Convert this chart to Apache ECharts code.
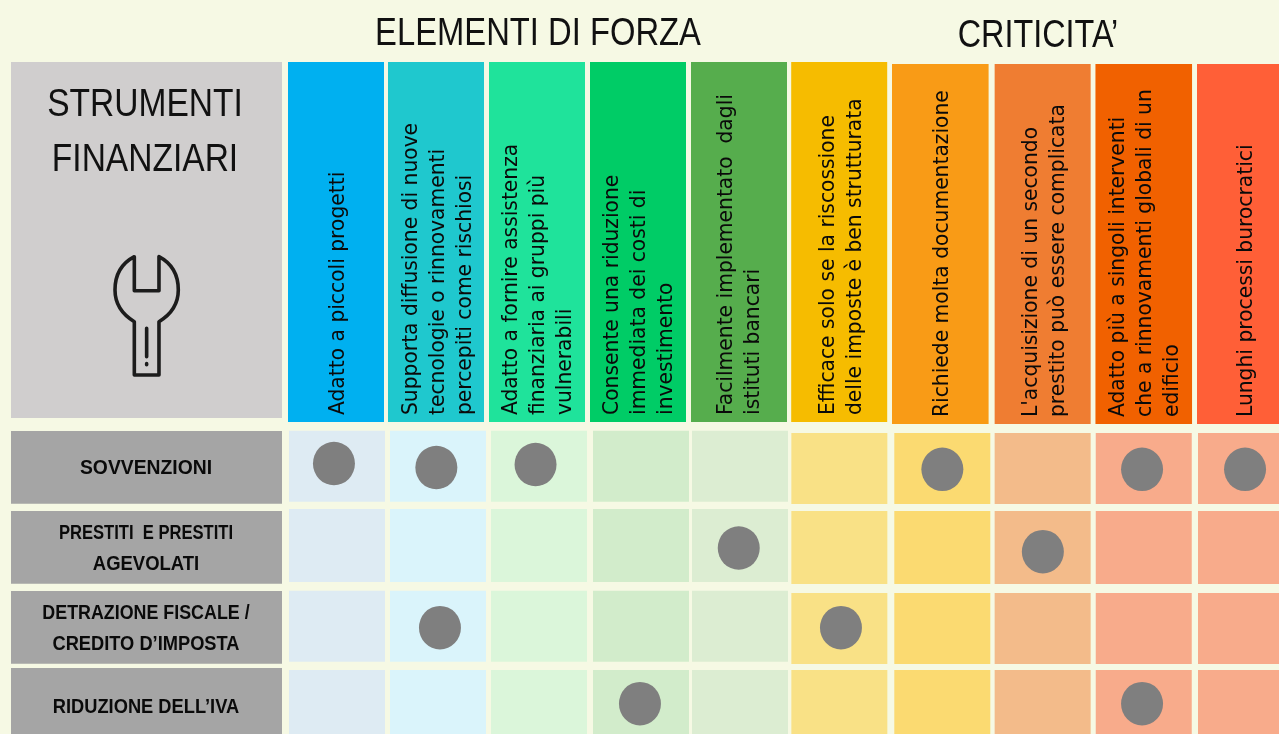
<!DOCTYPE html>
<html><head><meta charset="utf-8">
<style>html,body{margin:0;padding:0;background:#F6F9E4;overflow:hidden}#c{width:1279px;height:734px}</style>
<script src="https://cdn.jsdelivr.net/npm/echarts@6/dist/echarts.min.js"></script>
</head><body><div id="c"></div>
<script>
// ---- data ----
const criteria = [
  "Adatto a piccoli progetti",
  "Supporta diffusione di nuove\ntecnologie o rinnovamenti\npercepiti come rischiosi",
  "Adatto a fornire assistenza\nfinanziaria ai gruppi più\nvulnerabili",
  "Consente una riduzione\nimmediata dei costi di\ninvestimento",
  "Facilmente implementato  dagli\nistituti bancari",
  "Efficace solo se la riscossione\ndelle imposte è ben strutturata",
  "Richiede molta documentazione",
  "L'acquisizione di un secondo\nprestito può essere complicata",
  "Adatto più a singoli interventi\nche a rinnovamenti globali di un\nedificio",
  "Lunghi processi burocratici"
];
const instruments = [
  "SOVVENZIONI",
  "PRESTITI  E PRESTITI\nAGEVOLATI",
  "DETRAZIONE FISCALE /\nCREDITO D’IMPOSTA",
  "RIDUZIONE DELL’IVA"
];
const groupTitles = ["ELEMENTI DI FORZA", "CRITICITA’"];
const panelTitle = "STRUMENTI\nFINANZIARI";
const dotColumns = [0, 1, 2, 6, 8, 9, 4, 7, 1, 5, 3, 8];
const dotRows    = [0, 0, 0, 0, 0, 0, 1, 1, 2, 2, 3, 3];

// ---- styling and small layout nudges ----
const headerColors = ["#00B0F0","#1FC8CE","#1FE39B","#00CC66","#56AD4D","#F6BC00","#F99B16","#EF7D32","#F16100","#FF5F37"];
const cellColors   = ["#DEEBF3","#DAF4FB","#DBF6DA","#D2ECCB","#DCEDD2","#F9E186","#FBDA71","#F3BB8A","#F8AB8B","#F8AB8B"];
const cellNudgeX   = [-1.45,-1.35,-1.25,-0.15,-2.05,-3.6,-1.55,-2.1,-1.9,-0.55];
const cellNudgeYA  = [-3.15,-3,-1.15,0];
const cellNudgeYB  = [-1,-1,1,0];
const cellHeights  = [71,73,71,73];
const headerNudgeX = [-2.45,-3.35,-3.25,-3.15,-3.05,-3.75,-3.55,-2.1,-1.9,-1.55];
const headerWidths = [96,96,96,96,96,96,96.6,96,96.6,96];
const textNudgeX   = [-0.25,-1.15,-2.05,-1.65,-1.55,-1.25,-1.35,0.75,0.35,-0.05];
const dotNudges = [[-4.5,-6],[-3,-2],[-4.7,-5],[-1.5,-0.2],[-3.6,-0.2],[-1.5,-0.2],[-3.3,-0.5],[-1.9,3.2],[0.6,0.2],[-2,0.2],[-1.2,-2.8],[-3.6,-2.8]];
const rowRectNudge = [-2.15,-1.15,-0.15,-2];
const rowTextNudge = [-1.5,0,1,0.5];
const rowLineScale = [[0.92],[0.79,0.88],[0.85,0.87],[0.87]];
const NARROW = '"Liberation Sans",sans-serif';
const wrench = "M133 50C95 70 75 105 75 150C75 195 100 225 133 245L133 405L207 405L207 245C240 225 265 195 265 150C265 105 245 70 207 50L207 152L133 152ZM170 265L170 350M170 371L170 374";

const cellData = [];
criteria.forEach((_, c) => instruments.forEach((_, r) => cellData.push([c, r])));

const chart = echarts.init(document.getElementById('c'), null, {renderer:'canvas', width:1279, height:734});
chart.setOption({
  animation:false,
  backgroundColor:'#F6F9E4',
  grid:{left:288, top:430, width:1009, height:316, containLabel:false, outerBoundsMode:'none'},
  xAxis:{type:'category', data:criteria, show:false},
  yAxis:{type:'category', data:instruments, inverse:true, show:false},
  graphic:[
    {type:'rect', z:1, shape:{x:11,y:62,width:271,height:356}, style:{fill:'#D0CECE'}},
    {type:'text', z:2, x:145, y:132.5, scaleX:0.86, style:{text:panelTitle, font:'39px '+NARROW, lineHeight:55.5, align:'center', verticalAlign:'middle', fill:'#111'}},
    {type:'text', z:2, x:538, y:34, scaleX:0.84, style:{text:groupTitles[0], font:'39px '+NARROW, align:'center', verticalAlign:'middle', fill:'#111'}},
    {type:'text', z:2, x:1038, y:36, scaleX:0.83, style:{text:groupTitles[1], font:'39px '+NARROW, align:'center', verticalAlign:'middle', fill:'#111'}}
  ],
  series:[
    {type:'custom', name:'header', coordinateSystem:'cartesian2d', clip:false, silent:true, z:2,
     data:criteria.map((_, i) => [i, 0]), encode:{x:0,y:1},
     renderItem(p, api){
       const i = api.value(0), cx = api.coord([i,0])[0];
       const top = i < 6 ? 62 : 64, w = headerWidths[i];
       return {type:'group', children:[
         {type:'rect', shape:{x:cx+headerNudgeX[i]-w/2, y:top, width:w, height:360}, style:{fill:headerColors[i]}},
         {type:'text', x:cx+textNudgeX[i], y:top+353, rotation:Math.PI/2, scaleX:0.965, scaleY:1,
          style:{text:criteria[i], font:'21px "DejaVu Sans",sans-serif', lineHeight:27, align:'left', verticalAlign:'middle', fill:'#0a0a0a'}}
       ]};
     }},
    {type:'custom', name:'cells', coordinateSystem:'cartesian2d', clip:false, silent:true, z:2,
     data:cellData, encode:{x:0,y:1},
     renderItem(p, api){
       const c = api.value(0), r = api.value(1), pt = api.coord([c,r]);
       const ny = (c < 5 ? cellNudgeYA : cellNudgeYB)[r], h = cellHeights[r];
       return {type:'rect', shape:{x:pt[0]+cellNudgeX[c]-48, y:pt[1]+ny-h/2, width:96, height:h}, style:{fill:cellColors[c]}};
     }},
    {type:'custom', name:'rows', coordinateSystem:'cartesian2d', clip:false, silent:true, z:2,
     data:instruments.map((_, r) => [0, r]), encode:{x:0,y:1},
     renderItem(p, api){
       const r = api.value(1), y = api.coord([0,r])[1];
       const lines = instruments[r].split('\n');
       const children = [{type:'rect', shape:{x:11, y:y+rowRectNudge[r]-36.4, width:271, height:72.8}, style:{fill:'#A5A5A5'}}];
       lines.forEach((line, k) => children.push({type:'text', x:146, y:y+rowTextNudge[r]+(k-(lines.length-1)/2)*31, scaleX:rowLineScale[r][k],
          style:{text:line, font:'bold 21px '+NARROW, align:'center', verticalAlign:'middle', fill:'#0a0a0a'}}));
       return {type:'group', children};
     }},
    {type:'custom', name:'icon', coordinateSystem:'cartesian2d', clip:false, silent:true, z:3,
     data:[[0,0]], encode:{x:0,y:1},
     renderItem(){
       return {type:'path', shape:{pathData:wrench, x:115, y:256.7, width:63.3, height:118.3, layout:'cover'},
         style:{fill:null, stroke:'#1c1c1c', lineWidth:3.6, lineCap:'round', lineJoin:'round'}};
     }},
    {type:'scatter', name:'dots', clip:false, silent:true, z:5,
     symbol:'circle', symbolSize:[42,43.5], itemStyle:{color:'#7F7F7F', opacity:1},
     data:dotColumns.map((c, k) => ({value:[c, dotRows[k]], symbolOffset:dotNudges[k]}))}
  ]
});
</script></body></html>
